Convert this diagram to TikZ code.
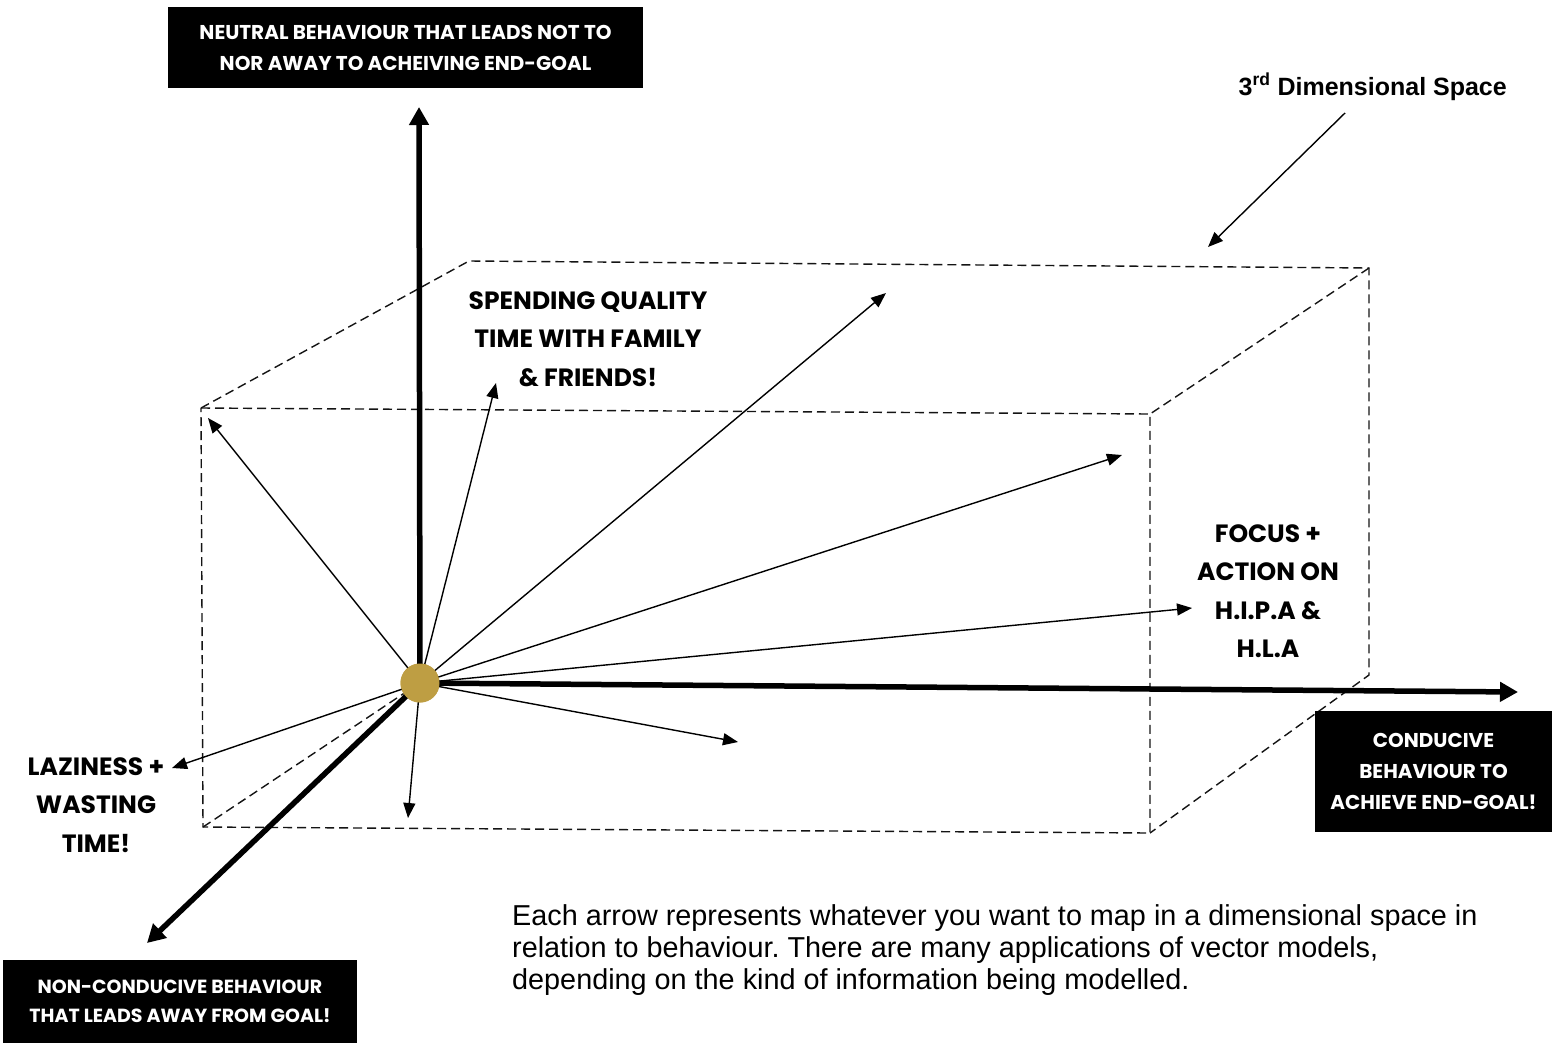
\documentclass[tikz,border=0pt]{standalone}
\usepackage{fontspec}
\setmainfont{Liberation Sans}
\newfontfamily\popfont{Poppins}
\usetikzlibrary{arrows.meta}
\definecolor{goldball}{RGB}{190,158,67}
\definecolor{dashgrey}{RGB}{20,20,20}
\tikzset{
  axisarrow/.style={line width=5.5pt, -{Triangle[length=18pt,width=19pt]}},
  vecarrow/.style={line width=1.4pt, -{Triangle[length=15pt,width=12pt]}},
  boxedge/.style={dashgrey, line width=1.4pt, dash pattern=on 9pt off 5pt},
  blackbox/.style={fill=black, text=white, align=center, inner sep=0pt,
    font=\popfont\bfseries\fontsize{20}{31}\selectfont},
  bigcap/.style={align=center, inner sep=0pt,
    font=\popfont\bfseries\fontsize{25}{38.5}\selectfont},
}
\frenchspacing
\begin{document}
\begin{tikzpicture}[x=1pt,y=-1pt]
\useasboundingbox[fill=white] (0,0) rectangle (1552,1042);

% corners of the dashed box
\coordinate (ftl) at (201,408);
\coordinate (ftr) at (1150,414);
\coordinate (fbr) at (1150,833);
\coordinate (fbl) at (203,827);
\coordinate (btl) at (469,261);
\coordinate (btr) at (1369,268);
\coordinate (bbr) at (1369,675);
\coordinate (bbl) at (412,688);

\draw[boxedge] (ftl) -- (ftr) -- (fbr) -- (fbl) -- cycle;
\draw[boxedge] (ftl) -- (btl) -- (btr) -- (bbr) -- (fbr);
\draw[boxedge] (btr) -- (ftr);
\draw[boxedge] (fbl) -- (bbl);

% origin of all vectors
\node[circle, fill=goldball, minimum size=39pt, inner sep=0pt] (o) at (420,683) {};

% end points of the vectors
\coordinate (v1) at (208,418);
\coordinate (v2) at (496,383);
\coordinate (v3) at (886,293);
\coordinate (v4) at (1122,455);
\coordinate (v5) at (1192,608);
\coordinate (v6) at (738,742);
\coordinate (v7) at (408,818);
\coordinate (v8) at (172,768);

\foreach \v in {v1,v2,v3,v4,v5,v6,v7,v8}
  \draw[vecarrow] (o.center) -- (\v);

% axes
\coordinate (up) at (419,107);
\coordinate (right) at (1518,692);
\coordinate (down) at (147,943);
\draw[axisarrow] (o.center) -- (up);
\draw[axisarrow] (o.center) -- (right);
\draw[axisarrow] (o.center) -- (down);

\node[circle, fill=goldball, minimum size=39pt, inner sep=0pt] at (o) {};

% axis captions
\node[blackbox, minimum width=475pt, minimum height=81pt] (neutral) at (405.5,47.5)
  {NEUTRAL BEHAVIOUR THAT LEADS NOT TO\\NOR AWAY TO ACHEIVING END-GOAL};
\node[blackbox, minimum width=237pt, minimum height=121pt] (conducive) at (1433.5,771.5)
  {CONDUCIVE\\BEHAVIOUR TO\\ACHIEVE END-GOAL!};
\node[blackbox, minimum width=354pt, minimum height=83pt,
  font=\popfont\bfseries\fontsize{19}{29}\selectfont] (nonconducive) at (180,1001)
  {NON-CONDUCIVE BEHAVIOUR\\THAT LEADS AWAY FROM GOAL!};

% vector captions
\node[bigcap] (family) at (588,339) {SPENDING QUALITY\\TIME WITH FAMILY\\\& FRIENDS!};
\node[bigcap] (focus) at (1268,591) {FOCUS +\\ACTION ON\\H.I.P.A \&\\H.L.A};
\node[bigcap] (lazy) at (96,805) {LAZINESS +\\WASTING\\TIME!};

% the box itself
\node[anchor=base east, inner sep=0pt, font=\bfseries\fontsize{25}{28}\selectfont] (space) at (1507,95)
  {3\textsuperscript{rd} Dimensional Space};
\coordinate (spacetail) at (1345,113);
\coordinate (spacetip) at (1208,247);
\draw[vecarrow] (spacetail) -- (spacetip);

% note
\node[anchor=north west, align=left, inner sep=0pt, font=\fontsize{28.8}{32}\selectfont] (note) at (512,904)
  {Each arrow represents whatever you want to map in a dimensional space in\\
   relation to behaviour. There are many applications of vector models,\\
   depending on the kind of information being modelled.};
\end{tikzpicture}
\end{document}
